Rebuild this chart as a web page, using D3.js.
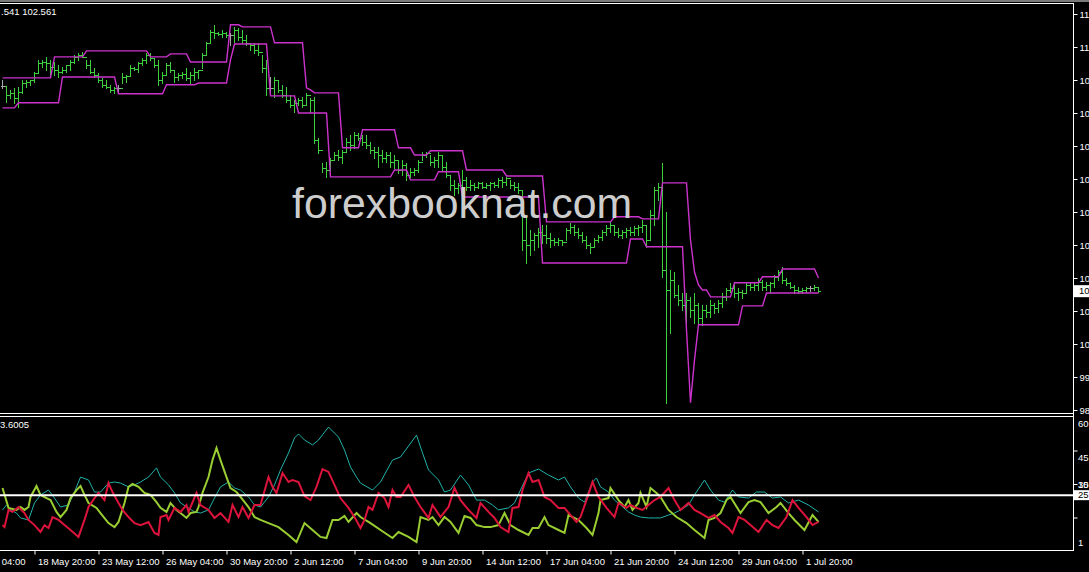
<!DOCTYPE html>
<html><head><meta charset="utf-8">
<script src="https://cdn.jsdelivr.net/npm/d3@7"></script>
<style>html,body{margin:0;padding:0;background:#000;overflow:hidden}</style>
</head><body>
<svg id="c" width="1089" height="572"></svg>
<script>
// ---------- DATA ----------
const highs = [
109.60,109.37,109.27,109.34,109.37,109.60,109.60,109.60,109.87,110.27,
110.27,110.37,110.27,110.20,110.10,110.04,110.10,110.27,110.44,110.50,
110.54,110.27,110.27,110.00,109.84,109.67,109.60,109.44,109.37,109.44,
109.84,109.77,110.10,110.04,110.20,110.34,110.50,110.50,110.34,110.27,
109.87,110.17,110.20,109.94,109.84,109.87,110.00,109.87,110.00,109.94,
110.50,110.87,111.27,111.44,111.20,111.27,111.20,111.17,111.37,111.34,
111.27,111.10,110.84,110.84,110.84,110.44,110.27,109.70,109.70,
109.60,109.44,109.37,109.10,108.94,109.00,109.04,109.17,109.00,109.04,
107.67,106.84,106.87,107.00,107.20,107.27,107.27,107.67,107.77,107.87,
107.84,107.77,107.77,107.54,107.37,107.37,107.27,107.20,107.20,107.10,
106.94,106.94,106.84,106.67,106.67,106.94,107.20,107.20,107.10,107.04,
107.20,107.10,106.87,106.44,106.27,106.17,106.60,106.37,106.27,106.17,
106.20,106.20,106.17,106.20,106.20,106.34,106.37,106.37,106.27,106.20,
106.17,105.94,105.10,104.60,104.50,104.67,104.77,
104.77,104.50,104.34,104.34,104.27,104.67,104.84,104.77,104.67,104.54,
104.40,104.17,104.34,104.44,104.60,104.77,104.87,104.77,104.67,104.60,
104.67,104.70,104.74,104.77,104.94,104.77,105.27,106.04,106.17,106.84,
105.20,103.27,103.20,102.77,102.50,102.50,102.37,102.50,102.17,102.10,
102.10,102.27,102.17,102.27,102.50,102.67,102.84,102.77,102.67,102.60,
102.84,102.84,102.87,103.00,102.94,102.87,102.87,103.10,103.27,103.37,
103.00,102.87,102.77,102.70,102.67,102.70,102.74,102.77,102.70];
const lows = [
109.34,108.87,109.00,108.84,108.70,109.17,109.37,109.44,109.54,109.87,
110.04,109.94,109.70,109.77,109.70,109.84,109.87,109.94,110.17,110.27,
110.37,110.00,109.84,109.70,109.54,109.37,109.34,109.20,109.17,109.20,
109.50,109.54,109.77,109.94,109.87,110.10,110.17,110.27,110.04,109.44,
109.50,109.77,109.87,109.54,109.60,109.67,109.60,109.50,109.60,109.67,
110.00,110.44,110.87,111.00,111.10,111.04,111.04,110.77,110.87,110.94,
110.84,110.77,110.60,110.50,110.44,109.87,109.10,109.20,109.04,
109.20,109.04,108.87,108.70,108.54,108.77,108.70,108.77,108.54,107.50,
107.17,106.54,106.37,106.60,106.94,106.94,106.84,107.20,107.27,107.34,
107.60,107.44,107.34,107.17,107.00,106.70,106.87,106.87,106.70,106.67,
106.50,106.44,106.27,106.37,106.44,106.54,106.94,107.04,106.77,106.70,
106.70,106.60,106.37,105.94,105.77,105.84,105.84,105.94,105.94,105.94,
106.00,106.00,106.00,105.94,106.04,106.04,106.04,106.10,106.00,105.94,
105.84,103.94,103.50,103.77,103.94,104.04,104.17,
104.17,104.04,104.10,104.10,104.10,104.27,104.50,104.44,104.34,104.20,
104.00,103.84,104.04,104.20,104.27,104.44,104.54,104.44,104.37,104.34,
104.37,104.44,104.44,104.44,104.54,104.04,104.27,104.77,105.60,103.04,
98.84,101.17,102.37,102.10,101.94,101.50,101.70,101.50,101.50,101.44,
101.70,101.70,101.84,101.87,102.04,102.27,102.54,102.37,102.27,102.34,
102.50,102.60,102.60,102.60,102.60,102.60,102.50,102.70,102.94,102.84,
102.77,102.67,102.50,102.50,102.50,102.54,102.57,102.60,102.541];
const closes = [
109.40,109.10,109.17,109.00,109.20,109.50,109.54,109.60,109.84,110.17,
110.20,110.17,110.04,109.94,109.87,109.94,110.10,110.20,110.37,110.44,
110.37,110.10,109.87,109.77,109.60,109.44,109.37,109.27,109.34,109.34,
109.70,109.74,110.00,109.97,110.17,110.27,110.44,110.34,110.10,109.60,
109.77,110.10,109.94,109.70,109.77,109.80,109.67,109.77,109.87,109.94,
110.44,110.84,111.20,111.17,111.14,111.17,111.10,111.10,111.27,111.04,
110.94,110.84,110.77,110.60,110.54,110.00,109.34,109.34,109.60,
109.27,109.10,108.94,108.77,108.84,108.94,108.77,109.10,108.94,107.60,
107.27,106.67,106.60,106.94,107.10,107.04,107.20,107.54,107.44,107.77,
107.67,107.54,107.44,107.27,107.20,107.10,107.00,107.10,106.87,106.94,
106.60,106.77,106.44,106.54,106.60,106.87,107.10,107.17,106.87,106.94,
107.10,106.70,106.44,106.10,106.00,106.10,106.27,106.04,106.10,106.04,
106.17,106.04,106.10,106.17,106.10,106.27,106.20,106.34,106.10,106.04,
105.94,104.27,104.10,104.27,104.44,104.54,104.44,
104.34,104.27,104.20,104.27,104.20,104.60,104.70,104.54,104.44,104.27,
104.10,104.04,104.27,104.37,104.54,104.67,104.77,104.54,104.44,104.54,
104.60,104.54,104.67,104.70,104.77,104.27,105.10,105.94,106.04,103.27,
102.60,102.94,102.44,102.27,102.10,102.27,101.94,102.10,101.67,101.94,
101.87,102.10,102.00,102.17,102.37,102.60,102.67,102.50,102.54,102.50,
102.77,102.70,102.77,102.87,102.70,102.77,102.84,103.04,103.20,102.94,
102.84,102.70,102.60,102.57,102.60,102.67,102.67,102.70,102.561];
const upperBand = [
109.67,109.67,109.67,109.67,109.67,109.67,109.67,109.67,109.67,109.67,109.67,109.67,109.67,
110.37,110.37,110.37,110.37,110.37,110.37,110.37,110.37,
110.57,110.57,110.57,110.57,110.57,110.57,110.57,110.57,110.57,110.57,110.57,110.57,110.57,110.57,110.57,110.57,
110.37,110.37,110.37,110.37,110.37,
110.47,110.47,110.47,110.47,110.47,
110.20,110.20,110.20,110.20,110.20,110.20,110.20,110.20,110.20,110.20,
111.44,111.44,111.44,
111.37,111.37,111.37,111.37,111.37,111.37,111.37,111.37,
110.84,110.84,110.84,110.84,110.84,110.84,110.84,110.84,
109.34,109.27,
109.17,109.17,109.17,109.17,109.17,109.17,109.17,
107.34,107.34,107.34,107.34,107.34,
107.94,107.94,107.94,107.94,107.94,107.94,107.94,107.94,107.94,
107.34,107.34,107.34,107.34,
107.10,107.10,107.10,107.10,
107.24,107.24,107.24,107.24,107.24,107.24,107.24,107.24,107.24,
106.60,106.60,106.60,106.60,106.60,106.60,106.60,106.60,106.60,106.60,
106.40,106.40,106.40,106.40,106.40,106.40,106.40,106.40,106.40,106.40,
104.87,104.87,104.87,104.87,104.87,104.87,104.87,104.87,104.87,104.87,104.87,104.87,104.87,104.87,104.87,104.87,104.87,
105.04,105.04,105.04,105.04,105.04,105.04,105.04,
104.97,104.97,104.97,104.97,104.97,
106.17,106.17,106.17,106.17,106.17,106.17,106.17,
104.27,103.20,102.77,
102.60,102.60,
102.37,102.37,102.37,102.37,102.37,102.37,
102.84,102.84,102.84,102.84,102.84,102.84,102.84,
103.04,103.04,103.04,103.04,103.04,
103.30,103.30,103.30,103.30,103.30,103.30,103.30,103.30,103.30,
103.00];
const lowerBand = [
108.67,108.67,108.67,108.67,
108.84,108.84,108.84,108.84,108.84,108.84,108.84,108.84,108.84,108.84,108.84,
109.70,109.70,109.70,109.70,109.70,109.70,109.70,109.70,109.70,109.70,109.70,109.70,109.70,109.70,
109.14,109.14,109.14,109.14,109.14,109.14,109.14,109.14,109.14,109.14,109.14,109.14,
109.44,109.44,109.44,109.44,109.44,109.44,109.44,109.44,
109.50,109.50,109.50,109.50,109.50,109.50,109.50,109.50,
110.27,
110.80,110.80,110.80,110.80,110.80,110.80,110.80,110.80,110.80,
109.07,109.07,109.07,109.07,109.07,109.07,109.07,
108.50,108.50,108.50,108.50,108.50,108.50,108.50,108.50,
106.37,106.37,106.37,106.37,106.37,106.37,106.37,106.37,106.37,106.37,106.37,106.37,106.37,106.37,106.37,106.37,
106.60,106.60,106.60,106.60,
106.27,106.27,106.27,106.27,106.27,106.27,106.27,
106.54,106.54,106.54,106.54,106.54,106.54,
105.70,105.70,105.70,105.70,105.70,105.70,105.70,105.70,105.70,105.70,105.70,105.70,105.70,105.70,105.70,105.70,105.70,105.70,105.70,105.70,
103.50,103.50,103.50,103.50,103.50,103.50,103.50,103.50,103.50,103.50,103.50,103.50,103.50,103.50,103.50,103.50,103.50,103.50,103.50,103.50,103.50,103.50,
104.30,104.30,104.30,104.30,
104.04,104.04,104.04,104.04,104.04,104.04,104.04,104.04,104.04,104.04,
101.27,98.84,100.27,
101.44,101.44,101.44,101.44,101.44,101.44,101.44,101.44,101.44,101.44,101.44,
102.07,102.07,102.07,102.07,102.07,102.07,
102.50,102.50,102.50,102.50,102.50,102.50,102.50,102.50,102.50,102.50,102.50,102.50,102.50,102.50];

// ADX(14) sub-window: [bar index, value]
const adxMain = [[0,18.4],[1,20.6],[2,18.4],[3.5,17.0],[4.5,14.8],[6.5,13.9],[8,21.5],[9.5,25.1],[11.5,27.3],[13,23.7],[14.5,19.7],[16.5,20.6],[18,26.4],[19.5,33.1],[21.5,31.8],[23,26.4],[24.5,26.4],[26.5,30.4],[28,30.9],[29.5,30.4],[31.5,28.7],[33,29.6],[34.5,30.9],[36.5,33.1],[38.5,37.2],[39.5,33.1],[41.5,29.6],[43,26.0],[44.5,21.5],[46.5,19.3],[48,17.5],[49.5,17.0],[51.5,18.4],[53,23.7],[54.5,28.7],[56.5,30.9],[58,28.2],[59.5,27.3],[61.5,24.2],[63,20.6],[64.5,19.7],[66.5,24.2],[68,29.6],[69.5,36.3],[71.5,43.9],[73,50.6],[74,52.4],[75.5,49.7],[77.5,47.5],[79,49.7],[81.5,55.5],[84,51.0],[85.5,45.2],[87,37.6],[88.5,33.1],[89.5,30.4],[92.5,27.3],[94.5,30.9],[97.5,40.7],[99.5,42.1],[103.5,51.9],[105,43.9],[106.5,36.3],[109,31.8],[110.5,26.4],[112,27.3],[114.5,34.0],[116.5,29.6],[118.5,22.8],[120.5,22.8],[122.5,20.6],[124,18.4],[126.5,19.3],[128,21.5],[129.5,27.3],[131.5,34.9],[134,36.7],[136.5,34.0],[139,31.8],[140.5,33.1],[142,28.7],[144,23.7],[145.5,21.9],[147.5,30.9],[148.5,32.7],[149.5,28.7],[151.5,26.4],[153,22.8],[154.5,20.6],[156.5,17.5],[158,16.1],[159.5,15.2],[161.5,14.8],[163,14.8],[164.5,14.8],[166.5,16.1],[168,17.0],[169.5,18.4],[171.5,20.6],[173,25.1],[175.5,31.8],[177,27.3],[179,22.8],[180.5,21.9],[182.5,27.3],[184,24.2],[186.5,23.7],[188.5,26.4],[190.5,26.4],[192.5,23.7],[194.5,24.2],[196.5,21.5],[199,22.8],[201.5,20.6],[204,17.5]];
const plusDI = [[0,28.2],[1.5,19.3],[3.5,18.4],[4.5,19.7],[5.5,18.4],[6.5,19.7],[7,24.2],[8.5,29.1],[9.5,25.1],[11,23.7],[12,22.8],[13.5,17.5],[14.5,15.2],[16,18.4],[17,23.7],[18.5,27.3],[19.5,29.1],[20.5,25.1],[21.5,21.5],[23.5,19.3],[24.5,17.0],[26.5,12.5],[28,10.7],[29,13.0],[30.5,21.5],[31.5,28.7],[32.5,30.0],[34,28.7],[35.5,26.0],[37,25.1],[38.5,21.9],[39.5,19.3],[41,17.5],[42,21.5],[43.5,18.4],[44.5,17.0],[46,14.8],[47,17.0],[48.5,17.5],[49,19.7],[50,26.0],[51.5,33.1],[52.5,40.7],[53.5,46.1],[54.5,40.7],[56,33.1],[57,28.2],[58.5,26.4],[59.5,24.2],[61.5,19.7],[63,15.2],[64.5,13.9],[66.5,12.5],[69,10.7],[71.5,7.2],[73.5,4.0],[75.5,12.5],[77.5,9.4],[79.5,6.3],[81,5.8],[82.5,13.9],[84,13.9],[85.5,15.7],[86.5,13.0],[88.5,17.0],[89.5,15.2],[92,12.5],[94.5,9.4],[97.5,5.8],[99,8.5],[101.5,6.3],[103.5,4.0],[104.5,15.2],[106.5,13.9],[107.5,15.2],[109,11.6],[110.5,15.2],[112,13.0],[114,8.1],[115.5,15.7],[117,14.8],[118.5,11.6],[120.5,10.7],[122,10.7],[124,11.6],[125.5,17.0],[127,11.6],[129,9.4],[131.5,7.2],[132.5,10.3],[134,10.3],[135.5,15.2],[136.5,11.6],[139,9.4],[140.5,8.1],[141.5,16.1],[144,13.9],[146,10.3],[147.5,7.2],[149,17.0],[149.5,22.8],[151.5,23.7],[152,28.2],[154,22.8],[155.5,19.7],[156.5,22.8],[157.5,18.4],[159,21.5],[159.5,26.0],[161,19.7],[162,28.2],[163.5,26.0],[164.5,24.2],[166.5,18.4],[168.5,15.2],[171,12.5],[173,9.4],[175.5,5.8],[176.5,13.9],[178,14.8],[179.5,17.0],[181,22.8],[182,24.2],[184.5,17.0],[186.5,21.9],[188,22.8],[189.5,21.9],[191.5,17.0],[193.5,19.7],[194.5,21.5],[196.5,17.0],[198,13.9],[200.5,9.4],[202.5,16.1],[204,13.0]];
const minusDI = [[0,11.6],[0.5,10.7],[1.5,18.4],[2.5,17.5],[4,19.7],[5.5,17.0],[6.5,13.9],[8,11.6],[9.5,8.5],[10.5,11.6],[11.5,10.3],[12.5,15.2],[14,13.9],[15.5,11.6],[17,9.4],[19,6.3],[20.5,13.9],[21.5,19.7],[23,23.7],[24,26.0],[25.5,22.8],[26.5,30.4],[27.5,26.4],[29,21.5],[30,18.4],[31.5,15.2],[33,12.5],[34.5,11.6],[36.5,13.0],[38,8.1],[39,7.2],[39.5,15.2],[41,16.1],[41.5,13.9],[43,19.3],[44.5,17.5],[46,20.6],[46.5,17.5],[48.5,26.0],[49.5,20.6],[51.5,18.4],[53,14.8],[54.5,17.0],[56.5,13.0],[57.5,20.6],[59,15.2],[60,19.7],[61.5,14.8],[63,20.6],[64.5,20.6],[66.5,33.1],[67.5,28.7],[68.5,26.0],[70,34.9],[71.5,30.9],[72.5,31.8],[74,30.9],[75.5,24.6],[77,22.8],[78.5,28.7],[80,36.7],[81.5,35.4],[83,29.6],[84.5,23.7],[86.5,19.3],[88,15.2],[89.5,10.3],[90.5,13.9],[91.5,19.7],[92.5,18.4],[94,26.0],[95.5,23.7],[96.5,19.7],[97.5,27.3],[98.5,24.2],[99.5,24.2],[101.5,29.6],[103,24.2],[104.5,19.7],[106.5,14.8],[107.5,20.6],[109.5,15.2],[111.5,19.7],[113,28.2],[114.5,22.8],[116.5,18.4],[118.5,14.8],[119.5,21.5],[121.5,17.5],[123,14.8],[124.5,10.7],[126.5,8.5],[127.5,19.3],[129,19.7],[130,27.3],[131.5,34.9],[132.5,30.9],[134,31.8],[135.5,24.2],[137,22.8],[139,19.3],[140.5,19.3],[142,16.1],[143.5,13.0],[144.5,15.2],[146,22.8],[147.5,30.9],[149,24.2],[151,19.3],[153,15.2],[154,21.5],[156,19.3],[157,20.6],[158.5,19.3],[160,18.4],[161.5,20.6],[163,22.8],[164.5,24.2],[166.5,28.2],[168,22.8],[169.5,18.4],[171.5,21.5],[173,18.4],[174.5,17.0],[176.5,14.8],[178,16.1],[179.5,13.0],[181.5,10.3],[182.5,8.1],[184,15.2],[185.5,13.9],[187,11.6],[189,8.5],[191,13.9],[192.5,11.6],[194,10.3],[196,15.2],[197.5,22.8],[199,19.3],[201,15.2],[202.5,11.6],[204,13.0]];

const priceTicks = [98.6,99.7,100.8,101.9,103.0,104.1,105.2,106.3,107.4,108.5,109.6,110.7,111.8];
const priceTickLabels = ["98","99","10","10","10","10","10","10","10","10","10","11","11"];
const adxTicks = [45,30,15];
const adxLabelValues = [60,45,30,15];
const adxTickLabels = ["60","45","30","15"];
const adxMinLabel = "1";
const adxLevel = 25;
const timeTickBars = [8,24,40,56,72,88,104,120,136,152,168,184,200];
const timeTickLabels = ["18 May 20:00","23 May 12:00","26 May 04:00","30 May 20:00","2 Jun 12:00","7 Jun 04:00","9 Jun 20:00","14 Jun 12:00","17 Jun 04:00","21 Jun 20:00","24 Jun 12:00","29 Jun 04:00","1 Jul 20:00"];
const leftCutTimeLabel = "04:00";
const priceInfo = ".541 102.561";
const adxInfo = "3.6005";
const lastPriceLabel = "10";
const watermark = "forexbooknat.com";

// ---------- DRAW ----------
const FONT = "'Liberation Sans', Arial, sans-serif";
const svg = d3.select('#c');
const RIGHT = 1073.5;
const GREEN = "#3dcf3d", GREY = "#a8a8a8", MAG = "#cc33cc";

const x = d3.scaleLinear().domain([0, 204]).range([2.5, 818.5]);
const yP = d3.scaleLinear().domain([98.6, 111.8]).range([410, 14]);
const yA = d3.scaleLinear().domain([0, 60]).range([551, 417]);

svg.append('rect').attr('width',1089).attr('height',572).attr('fill','#000');
svg.append('rect').attr('x',0).attr('y',0).attr('width',1089).attr('height',2).attr('fill','#7a7a7a');

const defs = svg.append('defs');
defs.append('clipPath').attr('id','cm').append('rect').attr('x',0).attr('y',4).attr('width',1073).attr('height',409);
defs.append('clipPath').attr('id','cs').append('rect').attr('x',0).attr('y',417).attr('width',1073).attr('height',133);

// main panel
const gm = svg.append('g').attr('clip-path','url(#cm)');
const bars = highs.map((h,i)=>({i, h, l:lows[i], c:closes[i], o: i>0 ? closes[i-1] : closes[i]}));
gm.append('g').selectAll('path').data(bars).join('path')
  .attr('d', d => {
    const xi = x(d.i);
    const yo = Math.round(yP(d.o))+0.5, yc = Math.round(yP(d.c))+0.5;
    return `M${xi},${Math.round(yP(d.h))}V${Math.round(yP(d.l))+1}M${xi-2},${yo}H${xi}M${xi},${yc}H${xi+2}`;
  })
  .attr('stroke', d => d.o === d.c ? GREY : GREEN)
  .attr('stroke-width',1).attr('fill','none').attr('shape-rendering','crispEdges');

const bandLine = d3.line().x((d,i)=>x(i)).y(d=>yP(d));
gm.append('path').attr('d', bandLine(upperBand)).attr('fill','none').attr('stroke',MAG).attr('stroke-width',1.4);
gm.append('path').attr('d', bandLine(lowerBand)).attr('fill','none').attr('stroke',MAG).attr('stroke-width',1.4);

gm.append('text').attr('x',292).attr('y',218).attr('font-family',FONT).attr('font-size',42.8)
  .attr('fill','#cdcdcd').text(watermark);

svg.append('text').attr('x',1).attr('y',15).attr('font-family',FONT).attr('font-size',9.5)
  .attr('fill','#fff').text(priceInfo);

// sub window (ADX)
const gs = svg.append('g').attr('clip-path','url(#cs)');
const aLine = d3.line().x(d=>x(d[0])).y(d=>yA(d[1]));
gs.append('path').attr('d', aLine(adxMain)).attr('fill','none').attr('stroke','#20b2aa').attr('stroke-width',1);
gs.append('path').attr('d', aLine(plusDI)).attr('fill','none').attr('stroke','#9acd32').attr('stroke-width',2);
gs.append('path').attr('d', aLine(minusDI)).attr('fill','none').attr('stroke','#dc143c').attr('stroke-width',2);
svg.append('line').attr('x1',0).attr('x2',1080).attr('y1',yA(adxLevel)).attr('y2',yA(adxLevel))
  .attr('stroke','#fff').attr('stroke-width',2);
svg.append('text').attr('x',0).attr('y',428).attr('font-family',FONT).attr('font-size',9.5)
  .attr('fill','#fff').text(adxInfo);

// frames
const W = '#ffffff';
svg.append('line').attr('x1',0).attr('x2',RIGHT).attr('y1',3.5).attr('y2',3.5).attr('stroke',W);
svg.append('line').attr('x1',0).attr('x2',RIGHT).attr('y1',413.5).attr('y2',413.5).attr('stroke',W);
svg.append('line').attr('x1',0).attr('x2',RIGHT).attr('y1',416.5).attr('y2',416.5).attr('stroke',W);
svg.append('line').attr('x1',RIGHT).attr('x2',RIGHT).attr('y1',3).attr('y2',551).attr('stroke',W);

// price axis
const pAxis = svg.append('g').attr('transform',`translate(${RIGHT},0)`)
  .call(d3.axisRight(yP).tickValues(priceTicks).tickFormat((d,i)=>priceTickLabels[i]).tickSize(4).tickPadding(2));
pAxis.select('.domain').remove();
pAxis.selectAll('line').attr('stroke',W);
pAxis.selectAll('text').attr('fill',W).attr('font-family',FONT).attr('font-size',9.5);

// last price box
const yl = yP(closes[closes.length-1]);
svg.append('rect').attr('x',1074).attr('y',yl-6).attr('width',15).attr('height',12).attr('fill','#fff');
svg.append('text').attr('x',1079).attr('y',yl).attr('dy','0.34em').attr('font-family',FONT).attr('font-size',9.5)
  .attr('fill','#000').text(lastPriceLabel);

// ADX axis
const yLv = yA(adxLevel);
const aAxis = svg.append('g').attr('transform',`translate(${RIGHT},0)`)
  .call(d3.axisRight(yA).tickValues(adxTicks).tickFormat('').tickSize(4));
aAxis.select('.domain').remove();
aAxis.selectAll('line').attr('stroke',W);
svg.append('g').selectAll('text').data(adxLabelValues).join('text')
  .attr('x',1078).attr('y',d=>Math.min(yA(d)+7, yLv-10)).attr('dy','0.34em')
  .attr('font-family',FONT).attr('font-size',9.5).attr('fill',W).text((d,i)=>adxTickLabels[i]);
svg.append('text').attr('x',1078).attr('y',yA(1)-6).attr('dy','0.34em')
  .attr('font-family',FONT).attr('font-size',9.5).attr('fill',W).text(adxMinLabel);
svg.append('rect').attr('x',1074).attr('y',yLv-5).attr('width',15).attr('height',10).attr('fill','#fff');
svg.append('text').attr('x',1078).attr('y',yLv).attr('dy','0.34em').attr('font-family',FONT).attr('font-size',9.5)
  .attr('fill','#000').text(String(adxLevel));

// time axis
svg.append('line').attr('x1',0).attr('x2',RIGHT+0.5).attr('y1',550.5).attr('y2',550.5).attr('stroke',W);
const tAxis = svg.append('g').attr('transform','translate(0,550.5)')
  .call(d3.axisBottom(x).tickValues(timeTickBars).tickFormat((d,i)=>timeTickLabels[i]).tickSize(4).tickPadding(4));
tAxis.select('.domain').remove();
tAxis.selectAll('line').attr('stroke',W);
tAxis.selectAll('text').attr('fill',W).attr('font-family',FONT).attr('font-size',9.5)
  .attr('text-anchor','start').attr('dx',3);
svg.append('text').attr('x', x(timeTickBars[0]) - 9).attr('y',550.5+8).attr('dy','0.71em')
  .attr('text-anchor','end').attr('font-family',FONT).attr('font-size',9.5).attr('fill',W).text(leftCutTimeLabel);
</script>
</body></html>
